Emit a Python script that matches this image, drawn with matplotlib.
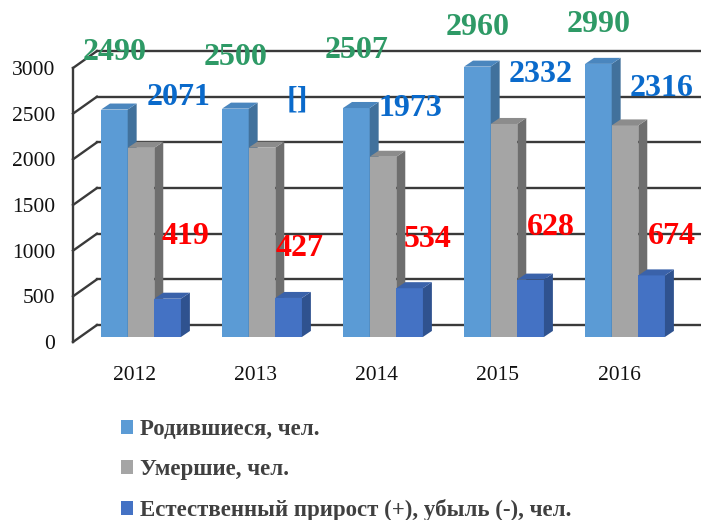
import numpy as np
import matplotlib.pyplot as plt
from matplotlib.patches import Polygon, Patch

# Данные
years = ['2012', '2013', '2014', '2015', '2016']
births = [2490, 2500, 2507, 2960, 2990]
deaths = [2071, 2073, 1973, 2332, 2316]
growth = [419, 427, 534, 628, 674]

series_names = ['Родившиеся, чел.', 'Умершие, чел.',
                'Естественный прирост (+), убыль (-), чел.']
label_texts = [
    [str(v) for v in births],
    ['2071', '[]', '1973', '2332', '2316'],
    [str(v) for v in growth],
]

# смещения подписей (по x в долях категории, по y в единицах оси)
label_dx = [[-0.215] * 5,
            [0.31, 0.29, 0.23, 0.30, 0.30],
            [0.37, 0.31, 0.37, 0.39, 0.39]]
label_dy = [[685, 610, 690, 478, 481],
            [601, 577, 589, 592, 465],
            [731, 602, 583, 631, 476]]
label_colors = ['#2E9A66', '#0A6ACB', '#FF0000']

face_colors = ['#5B9BD5', '#A5A5A5', '#4472C4']
side_colors = ['#41719C', '#6E6E6E', '#2F528F']
top_colors = ['#4A86BE', '#8C8C8C', '#3A62AA']

plt.rcParams['font.family'] = ['Liberation Serif', 'DejaVu Serif']

fig = plt.figure(figsize=(7.01, 5.20), dpi=100)
ax = fig.add_axes([73 / 701, (520 - 342) / 520, (701 - 73) / 701, 342 / 520])

px_per_unit = 274 / 3000
ax.set_ylim(0, 342 / px_per_unit)
ax.set_xlim(-0.562, 4.628)
for s in ax.spines.values():
    s.set_visible(False)

x = np.arange(len(years))
w = 0.22
base = 55           # небольшой подъём столбцов (глубина)
ddx, ddy = 0.074, 66   # глубина столбца
wdx, wdy = 0.198, 186  # глубина стенки
x_left = ax.get_xlim()[0]
yticks = np.arange(0, 3001, 500)

# задняя стенка и левая стенка
for v in yticks:
    ax.plot([x_left + wdx, ax.get_xlim()[1]], [v + wdy, v + wdy],
            color='#3a3a3a', lw=1.7, zorder=1, clip_on=False)
    ax.plot([x_left, x_left + wdx], [v, v + wdy],
            color='#3a3a3a', lw=1.7, zorder=1, clip_on=False)
ax.plot([x_left, x_left], [0, 3000], color='#3a3a3a', lw=1.7,
        zorder=1, clip_on=False)

# столбцы
for s, vals in enumerate([births, deaths, growth]):
    for i, v in enumerate(vals):
        xl = x[i] + (s - 1) * w - w / 2
        xr = xl + w
        z = 2 + s * 3
        ax.bar(xl, v, width=w, bottom=base, align='edge',
               color=face_colors[s], edgecolor='none', zorder=z)
        side = [(xr, base), (xr + ddx, base + ddy),
                (xr + ddx, base + v + ddy), (xr, base + v)]
        ax.add_patch(Polygon(side, closed=True, color=side_colors[s],
                             lw=0, zorder=z))
        top = [(xl, base + v), (xl + ddx, base + v + ddy),
               (xr + ddx, base + v + ddy), (xr, base + v)]
        ax.add_patch(Polygon(top, closed=True, color=top_colors[s],
                             lw=0, zorder=z))

# подписи данных
for s, vals in enumerate([births, deaths, growth]):
    for i, v in enumerate(vals):
        ax.text(x[i] + label_dx[s][i], v + label_dy[s][i], label_texts[s][i],
                ha='center', va='center', fontsize=23, fontweight='bold',
                color=label_colors[s], zorder=20, clip_on=False)

ax.set_yticks(yticks)
ax.set_yticklabels([str(v) for v in yticks], fontsize=15.5, color='#111111')
ax.set_xticks(x - 0.05)
ax.set_xticklabels(years, fontsize=15.5, color='#111111')
ax.tick_params(axis='y', length=0, pad=13)
ax.tick_params(axis='x', length=0, pad=17)

handles = [Patch(facecolor=c, edgecolor='none') for c in face_colors]
fig.legend(handles, series_names, loc='upper left',
           bbox_to_anchor=(112 / 701, 1 - 410 / 520), frameon=False,
           prop={'size': 16.5, 'weight': 'bold'}, labelcolor='#404040',
           handlelength=0.52, handleheight=0.52, handletextpad=0.3,
           labelspacing=0.83, borderaxespad=0)

fig.savefig('out.png', dpi=100)
